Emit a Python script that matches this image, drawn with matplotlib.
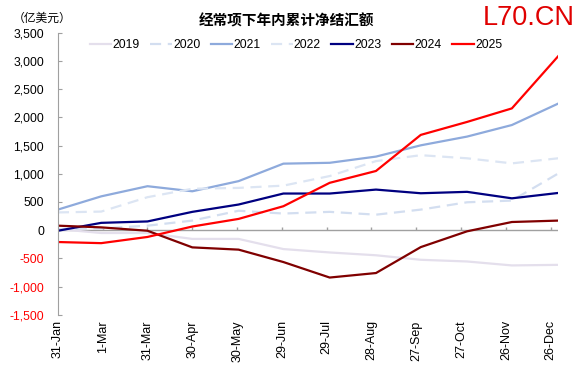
import matplotlib
matplotlib.use('Agg')
import matplotlib.pyplot as plt
import matplotlib.dates as mdates
import pandas as pd

plt.rcParams['font.family'] = ['Liberation Sans', 'Noto Sans CJK SC', 'DejaVu Sans']

# 月末日期（用 2024 年做日期轴）
months = pd.date_range('2024-01-31', periods=12, freq='ME')

# 各年度经常项下年内累计净结汇额（亿美元）
y2019 = [20, -50, -50, -155, -155, -335, -395, -445, -525, -555, -625, -615]
y2020 = [20, 30, 80, 170, 345, 295, 325, 275, 365, 495, 525, 1005]
y2021 = [365, 600, 780, 690, 870, 1180, 1195, 1305, 1505, 1660, 1865, 2245]
y2022 = [315, 330, 585, 735, 750, 790, 960, 1225, 1330, 1275, 1185, 1275]
y2023 = [-10, 130, 155, 325, 455, 650, 650, 720, 655, 680, 565, 660]
y2024 = [80, 50, -10, -305, -345, -565, -840, -760, -300, -20, 145, 170]
y2025 = [-210, -230, -120, 65, 200, 425, 840, 1050, 1690, 1920, 2160, 3085]

series = [
    ('2019', y2019, '#e4dfec', '-'),
    ('2020', y2020, '#d3def0', '--'),
    ('2021', y2021, '#8eaadc', '-'),
    ('2022', y2022, '#dce5f3', '--'),
    ('2023', y2023, '#000080', '-'),
    ('2024', y2024, '#800000', '-'),
    ('2025', y2025, '#ff0000', '-'),
]

yticks = [-1500, -1000, -500, 0, 500, 1000, 1500, 2000, 2500, 3000, 3500]

fig = plt.figure(figsize=(5.79, 3.69), dpi=100)
ax = fig.add_axes([0.100, 0.147, 0.864, 0.764])

for name, vals, color, ls in series:
    ax.plot(months, vals, color=color, linestyle=ls, linewidth=1.6, label=name,
            dashes=(5, 3) if ls == '--' else (None, None))

# 横轴刻度：从 1 月 31 日起每 30 天一个
xticks = pd.date_range('2024-01-31', periods=12, freq='30D')
ax.set_xticks(xticks)
ax.set_xticklabels([f"{d.day}-{d.strftime('%b')}" for d in xticks], rotation=90, fontsize=9)
ax.set_xlim(pd.Timestamp('2024-01-31'), pd.Timestamp('2024-12-31'))
ax.tick_params(axis='x', length=0, pad=4)

ax.set_ylim(-1500, 3500)
ax.set_yticks(yticks)
ax.set_yticklabels([f'{v:,}' for v in yticks], fontsize=8.7)
for lab, v in zip(ax.get_yticklabels(), yticks):
    if v < 0:
        lab.set_color('#ff0000')
ax.tick_params(axis='y', direction='in', length=3, color='#a0a0a0', pad=10)

# 零轴与其上的小刻度
ax.axhline(0, color='#a0a0a0', linewidth=1, zorder=0)
ax.vlines(xticks[1:], 0, 60, color='#a0a0a0', linewidth=1, zorder=0)

for s in ['top', 'right', 'bottom']:
    ax.spines[s].set_visible(False)
ax.spines['left'].set_color('#a0a0a0')

fig.text(0.494, 0.943, '经常项下年内累计净结汇额', ha='center', va='center',
         fontsize=10.5, fontweight='bold')
fig.text(0.022, 0.948, '（亿美元）', ha='left', va='center', fontsize=8.5)
fig.text(0.993, 0.952, 'L70.CN', ha='right', va='center', fontsize=19.5, color='#e00000')

fig.legend(loc='center', bbox_to_anchor=(0.511, 0.878), ncol=7, frameon=False,
           fontsize=8.7, handlelength=1.8, handletextpad=0.1, columnspacing=0.85)

plt.savefig('out.png', dpi=100)
